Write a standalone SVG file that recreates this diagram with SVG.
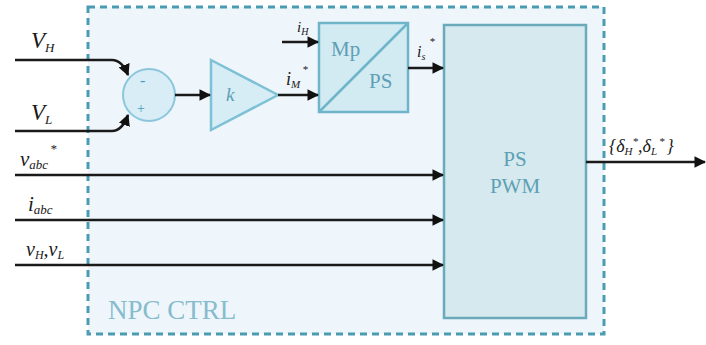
<svg xmlns="http://www.w3.org/2000/svg" width="706" height="345" viewBox="0 0 706 345">
<style>
text{font-family:"Liberation Serif","DejaVu Serif",serif}
.lbl{font-style:italic;fill:#1a1a1a}
.blk{fill:#5e9fb4}
.wire{fill:none;stroke:#1a1a1a;stroke-width:2.6}
</style>
<defs>
<marker id="a" viewBox="0 0 10 10" refX="9" refY="5" markerWidth="4.5" markerHeight="4.5" orient="auto">
<path d="M0,0 L10,5 L0,10 z" fill="#111"/>
</marker>
</defs>
<rect width="706" height="345" fill="#ffffff"/>
<g id="npc-ctrl">
<rect x="88" y="7" width="516" height="327" fill="#eef6fb" stroke="#4b9cb2" stroke-width="3" stroke-dasharray="7 5"/>
<text x="108" y="319" font-size="27" fill="#86bccd" font-family="Liberation Serif, serif">NPC CTRL</text>
</g>
<g id="sum">
<circle cx="149" cy="95" r="26" fill="#d8edf5" stroke="#8cc6dc" stroke-width="2"/>
<text x="140" y="86" font-size="16" fill="#4a9cc0">-</text>
<text x="137" y="113" font-size="14" fill="#4a9cc0">+</text>
</g>
<g id="gain">
<path d="M211,60 L278,95 L211,130 Z" fill="#d7edf6" stroke="#7ec0d6" stroke-width="2.5"/>
<text class="blk" x="226" y="101" font-size="19" font-style="italic">k</text>
</g>
<g id="mp-ps">
<rect x="319" y="23" width="89" height="89" fill="#d2ebf3" stroke="#6fb5c9" stroke-width="2.5"/>
<line x1="319" y1="112" x2="408" y2="23" stroke="#6fb5c9" stroke-width="2.5"/>
<text class="blk" x="331" y="56" font-size="21">Mp</text>
<text class="blk" x="369" y="88" font-size="21">PS</text>
</g>
<g id="ps-pwm">
<rect x="444" y="25" width="142" height="293" fill="#d5e9ef" stroke="#6aaabb" stroke-width="2.5"/>
<text class="blk" x="515" y="166" font-size="21" text-anchor="middle">PS</text>
<text class="blk" x="515" y="193" font-size="21" text-anchor="middle">PWM</text>
</g>
<g id="connectors">
<path class="wire" d="M15,60 L112,60 Q122,60 128,75" marker-end="url(#a)"/>
<path class="wire" d="M15,131 L112,131 Q122,131 128,115" marker-end="url(#a)"/>
<path class="wire" d="M175,95 L210,95" marker-end="url(#a)"/>
<path class="wire" d="M278,95 L318,95" marker-end="url(#a)"/>
<path class="wire" d="M282,42 L318,42" marker-end="url(#a)"/>
<path class="wire" d="M408,68 L443,68" marker-end="url(#a)"/>
<path class="wire" d="M15,175 L443,175" marker-end="url(#a)"/>
<path class="wire" d="M15,220 L443,220" marker-end="url(#a)"/>
<path class="wire" d="M15,265 L443,265" marker-end="url(#a)"/>
<path class="wire" d="M586,162 L705,162" marker-end="url(#a)"/>
</g>
<g id="labels">
<text class="lbl" x="31" y="48" font-size="23">V<tspan font-size="13" dy="4">H</tspan></text>
<text class="lbl" x="31" y="120" font-size="23">V<tspan font-size="13" dy="4">L</tspan></text>
<text class="lbl" x="20" y="166" font-size="21">v<tspan font-size="13" dy="3">abc</tspan><tspan font-size="13" dy="-16" dx="2">*</tspan></text>
<text class="lbl" x="28" y="211" font-size="21">i<tspan font-size="13" dy="3">abc</tspan></text>
<text class="lbl" x="26" y="256" font-size="20">v<tspan font-size="12" dy="3">H</tspan><tspan dy="-3">,v</tspan><tspan font-size="12" dy="3">L</tspan></text>
<text class="lbl" x="286" y="85" font-size="18">i<tspan font-size="11" dy="3">M</tspan><tspan font-size="11" dy="-15" dx="2">*</tspan></text>
<text class="lbl" x="297" y="32" font-size="15">i<tspan font-size="10" dy="3">H</tspan></text>
<text class="lbl" x="417" y="57" font-size="16">i<tspan font-size="10" dy="3">s</tspan><tspan font-size="11" dy="-15" dx="4">*</tspan></text>
<text class="lbl" x="609" y="152" font-size="18">{δ<tspan font-size="11" dy="3">H</tspan><tspan font-size="11" dy="-10">*</tspan><tspan dy="7">,δ</tspan><tspan font-size="11" dy="3">L</tspan><tspan font-size="11" dy="-10" dx="2">*</tspan><tspan dy="7" dx="2">}</tspan></text>
</g>
</svg>
